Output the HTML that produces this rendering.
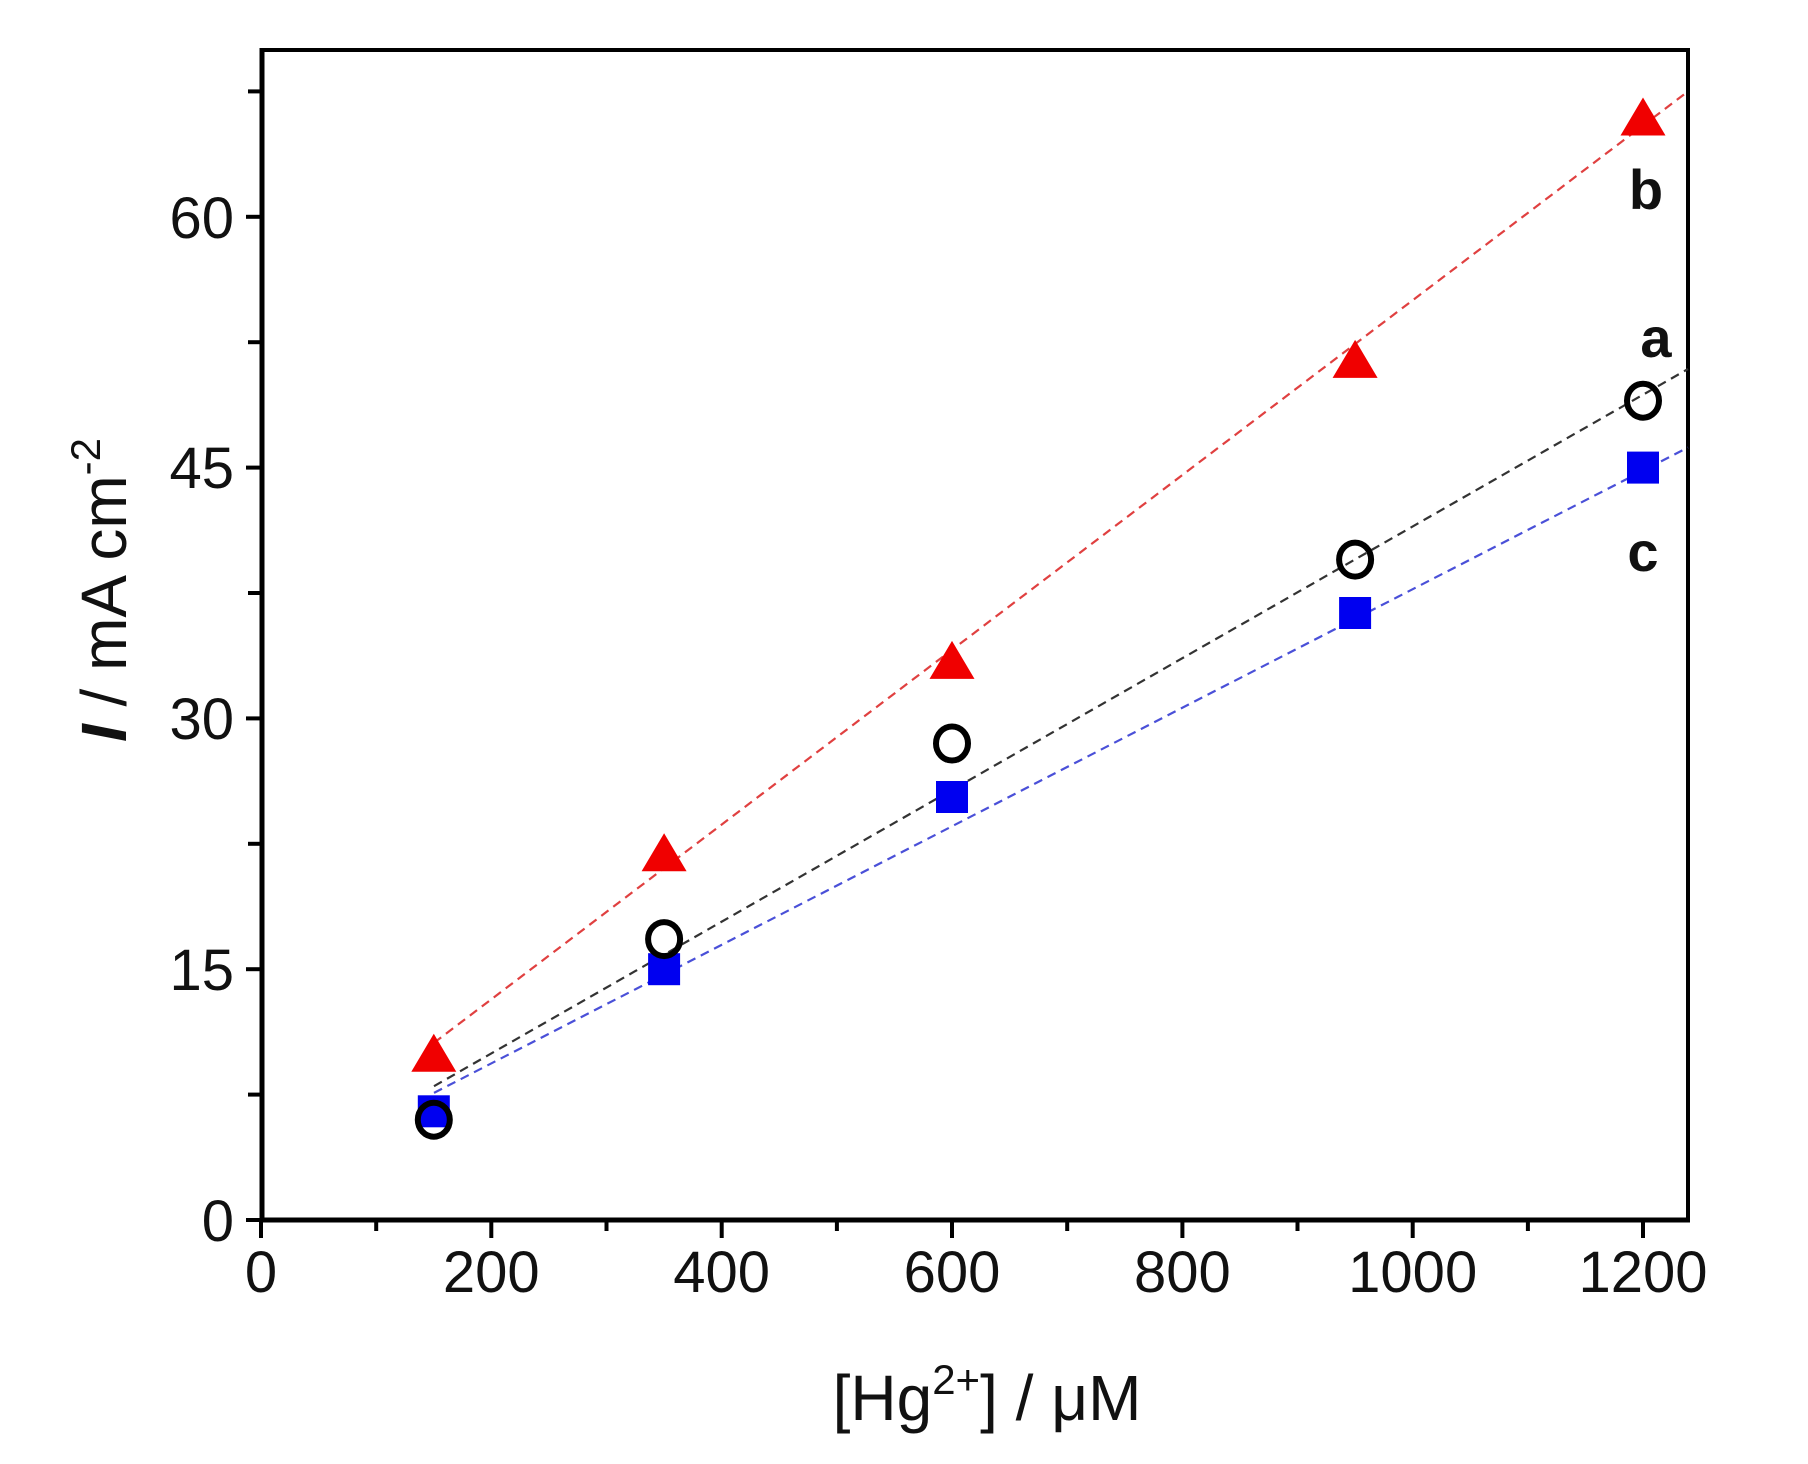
<!DOCTYPE html>
<html><head><meta charset="utf-8"><style>html,body{margin:0;padding:0;background:#fff}svg{display:block}</style></head>
<body>
<svg width="1808" height="1464" viewBox="0 0 1808 1464" xmlns="http://www.w3.org/2000/svg" font-family="Liberation Sans, Arial, sans-serif">
<rect width="1808" height="1464" fill="#fff"/>
<rect x="262" y="50" width="1426" height="1170" fill="none" stroke="#000" stroke-width="4"/>
<line x1="262" y1="48" x2="262" y2="1222" stroke="#000" stroke-width="5"/>
<line x1="260" y1="1220" x2="1690" y2="1220" stroke="#000" stroke-width="5"/>
<g stroke="#000" stroke-width="4">
<line x1="246" y1="1220" x2="262" y2="1220"/><line x1="248" y1="1094.6" x2="262" y2="1094.6"/>
<line x1="246" y1="969.2" x2="262" y2="969.2"/><line x1="248" y1="843.8" x2="262" y2="843.8"/>
<line x1="246" y1="718.4" x2="262" y2="718.4"/><line x1="248" y1="593" x2="262" y2="593"/>
<line x1="246" y1="467.6" x2="262" y2="467.6"/><line x1="248" y1="342.2" x2="262" y2="342.2"/>
<line x1="246" y1="216.8" x2="262" y2="216.8"/><line x1="248" y1="91.4" x2="262" y2="91.4"/>
</g>
<g stroke="#000" stroke-width="4">
<line x1="261" y1="1220" x2="261" y2="1238"/><line x1="376.2" y1="1220" x2="376.2" y2="1231"/>
<line x1="491.3" y1="1220" x2="491.3" y2="1238"/><line x1="606.5" y1="1220" x2="606.5" y2="1231"/>
<line x1="721.7" y1="1220" x2="721.7" y2="1238"/><line x1="836.9" y1="1220" x2="836.9" y2="1231"/>
<line x1="952" y1="1220" x2="952" y2="1238"/><line x1="1067.2" y1="1220" x2="1067.2" y2="1231"/>
<line x1="1182.4" y1="1220" x2="1182.4" y2="1238"/><line x1="1297.5" y1="1220" x2="1297.5" y2="1231"/>
<line x1="1412.7" y1="1220" x2="1412.7" y2="1238"/><line x1="1527.9" y1="1220" x2="1527.9" y2="1231"/>
<line x1="1643" y1="1220" x2="1643" y2="1238"/>
</g>
<g font-size="58" fill="#111" text-anchor="end">
<text x="234" y="1241">0</text><text x="234" y="990">15</text><text x="234" y="739">30</text>
<text x="234" y="488">45</text><text x="234" y="238">60</text>
</g>
<g font-size="58" fill="#111" text-anchor="middle">
<text x="261" y="1292">0</text><text x="491.3" y="1292">200</text><text x="721.7" y="1292">400</text>
<text x="952" y="1292">600</text><text x="1182.4" y="1292">800</text><text x="1412.7" y="1292">1000</text>
<text x="1643" y="1292">1200</text>
</g>
<text x="987" y="1420" font-size="64" text-anchor="middle" fill="#111">[Hg<tspan font-size="42" dy="-26">2+</tspan><tspan dy="26">] / μM</tspan></text>
<text transform="translate(126,590) rotate(-90)" font-size="64" text-anchor="middle" fill="#111"><tspan font-style="italic" font-weight="bold">I</tspan> / mA cm<tspan font-size="42" dy="-26">-2</tspan></text>
<g stroke-width="2.2" stroke-dasharray="9,6" fill="none">
<line x1="434" y1="1042.8" x2="1688" y2="91.4" stroke="#e04040"/>
<line x1="434" y1="1086.2" x2="1688" y2="369" stroke="#333"/>
<line x1="434" y1="1092.9" x2="1688" y2="447.5" stroke="#4a50d8"/>
</g>
<g fill="#0000f0">
<rect x="417.8" y="1095.3" width="32" height="32"/><rect x="648.1" y="953.2" width="32" height="32"/>
<rect x="936" y="781" width="32" height="32"/><rect x="1339.1" y="597" width="32" height="32"/>
<rect x="1627" y="451.6" width="32" height="32"/>
</g>
<g fill="none" stroke="#000" stroke-width="6">
<ellipse cx="433.8" cy="1119.7" rx="16" ry="17"/><ellipse cx="664.1" cy="939.1" rx="16" ry="17"/>
<ellipse cx="952" cy="743.5" rx="16" ry="17"/><ellipse cx="1355.1" cy="559.6" rx="16" ry="17"/>
<ellipse cx="1643" cy="400.7" rx="16" ry="17"/>
</g>
<g fill="#f00000">
<polygon points="411.3,1071.8 433.8,1033.8 456.3,1071.8"/>
<polygon points="641.6,871.2 664.1,833.2 686.6,871.2"/>
<polygon points="929.5,678.9 952,640.9 974.5,678.9"/>
<polygon points="1332.6,377.9 1355.1,339.9 1377.6,377.9"/>
<polygon points="1620.5,135.5 1643,97.5 1665.5,135.5"/>
</g>
<g font-size="56" font-weight="bold" fill="#111" text-anchor="middle">
<text x="1646" y="209">b</text><text x="1656" y="357">a</text><text x="1643" y="571">c</text>
</g>
</svg>
</body></html>
